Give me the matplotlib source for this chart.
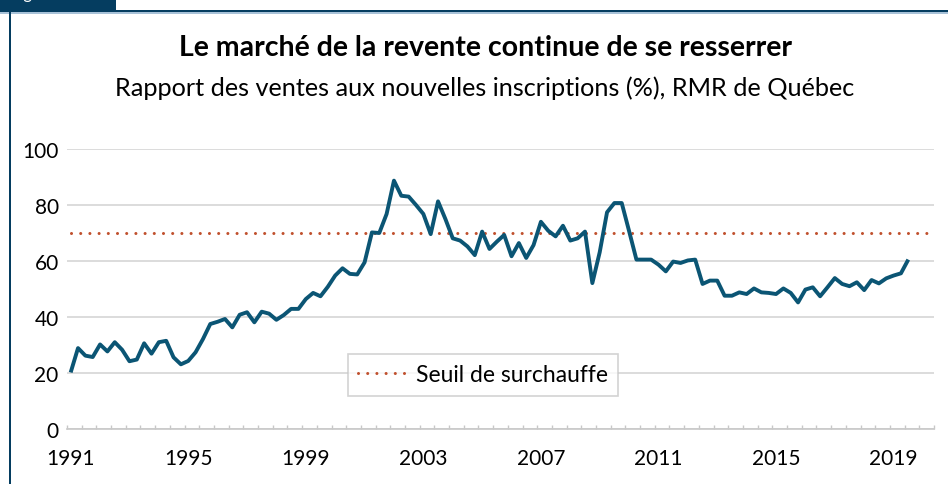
import numpy as np
import matplotlib
matplotlib.use("Agg")
import matplotlib.pyplot as plt
from matplotlib.patches import Rectangle
from matplotlib.lines import Line2D

# ---- data (quarterly, 1991 T1 -> 2019 T3) ----
ratio = [20.2, 28.9, 26.2, 25.7, 30.2, 27.7, 31.0, 28.3, 24.2, 24.8,
         30.6, 26.9, 31.0, 31.5, 25.6, 23.1, 24.3, 27.4, 32.1, 37.5,
         38.3, 39.3, 36.3, 40.8, 41.7, 38.1, 41.9, 41.2, 39.0, 40.7,
         42.9, 42.9, 46.4, 48.6, 47.4, 50.8, 54.8, 57.4, 55.4, 55.2,
         59.5, 70.2, 70.0, 76.8, 88.7, 83.3, 83.0, 80.0, 76.8, 69.6,
         81.3, 75.0, 68.1, 67.3, 65.2, 62.1, 70.5, 64.3, 66.9, 69.3,
         61.7, 66.4, 61.1, 65.7, 74.0, 70.8, 68.8, 72.6, 67.3, 68.1,
         70.5, 52.1, 63.1, 77.4, 80.7, 80.7, 70.7, 60.5, 60.5, 60.5,
         58.7, 56.3, 59.8, 59.3, 60.2, 60.5, 51.8, 53.0, 53.0, 47.6,
         47.6, 48.8, 48.2, 50.2, 48.8, 48.6, 48.2, 50.2, 48.6, 45.2,
         49.8, 50.6, 47.4, 50.6, 53.9, 51.8, 51.0, 52.4, 49.6, 53.2,
         52.0, 53.8, 54.8, 55.6, 60.5]
seuil = 70
n_categories = 118          # category axis length (quarters)
annees_labels = ["1991", "1995", "1999", "2003", "2007", "2011", "2015", "2019"]
yticks = [0, 20, 40, 60, 80, 100]

titre = "Le marché de la revente continue de se resserrer"
sous_titre = "Rapport des ventes aux nouvelles inscriptions (%), RMR de Québec"
legende = "Seuil de surchauffe"

# ---- style ----
plt.rcParams['font.family'] = ['Lato', 'DejaVu Sans']
W, H = 948, 485
fig = plt.figure(figsize=(W / 100, H / 100), dpi=100)

navy = "#053d60"
line_col = "#0b5574"
red = "#c0502d"

# frame decorations
fig.patches.append(Rectangle((0, 1 - 12 / H), 116 / W, 12 / H, transform=fig.transFigure,
                             facecolor=navy, edgecolor="none", zorder=0))
fig.patches.append(Rectangle((0, 1 - 13 / H), 1, 2.5 / H, transform=fig.transFigure,
                             facecolor=navy, edgecolor="none", zorder=0))
fig.patches.append(Rectangle((0, 1 - 14.5 / H), 1, 1.5 / H, transform=fig.transFigure,
                             facecolor="#a8c2d8", edgecolor="none", zorder=0))
fig.patches.append(Rectangle((8.5 / W, 0), 2 / W, 1 - 12 / H, transform=fig.transFigure,
                             facecolor=navy, edgecolor="none", zorder=0))
fig.text(10 / W, 1 + 0.5 / H, "Figure", color="white", fontsize=12, ha="left", va="baseline")

left, right = 67, 934
top, bottom = 150, 430
ax = fig.add_axes([left / W, 1 - bottom / H, (right - left) / W, (bottom - top) / H])

x = np.arange(len(ratio))
ax.plot(x, ratio, color=line_col, lw=2.8, solid_joinstyle="round", solid_capstyle="butt", zorder=3)
ax.hlines(seuil, 0, n_categories - 1, colors=red, lw=2.2, linestyles=(0, (0.01, 3.0)),
          capstyle="round", zorder=2)

ax.set_xlim(-0.5, n_categories - 0.5)
ax.set_ylim(0, 100)
ax.set_yticks(yticks)
ax.set_yticklabels([str(v) for v in yticks])
ax.yaxis.grid(True, color="#d6d6d6", lw=1.2)
ax.set_axisbelow(True)
for s in ["top", "right", "left"]:
    ax.spines[s].set_visible(False)
ax.spines["bottom"].set_color("#c8c8c8")
ax.spines["bottom"].set_linewidth(1.2)

ax.set_xticks(np.arange(-0.5, n_categories, 2))
ax.set_xticklabels([])
ax.tick_params(axis="x", which="major", direction="in", length=3, width=1, color="#c8c8c8")
ax.set_xticks(np.arange(0, 16 * len(annees_labels), 16), minor=True)
ax.set_xticklabels(annees_labels, minor=True)
ax.tick_params(axis="x", which="minor", length=0, pad=14, labelsize=15)
ax.tick_params(axis="y", length=0, pad=6, labelsize=15)

fig.text(486 / W, 1 - 48 / H, titre, ha="center", va="center", fontsize=20.5, fontweight="bold")
fig.text(485 / W, 1 - 88 / H, sous_titre, ha="center", va="center", fontsize=18.2)

handle = Line2D([], [], color=red, lw=2.2, linestyle=(0, (0.01, 3.0)), dash_capstyle="round")
leg = ax.legend([handle], [legende], loc="center", bbox_to_anchor=(483 / W, 1 - 376 / H),
                bbox_transform=fig.transFigure, frameon=True, fancybox=False,
                fontsize=16.5, handlelength=2.0, handletextpad=0.5, borderpad=0.45,
                borderaxespad=0)
leg.get_frame().set_edgecolor("#c8c8c8")
leg.get_frame().set_linewidth(1.2)

fig.savefig("out.png", dpi=100)
